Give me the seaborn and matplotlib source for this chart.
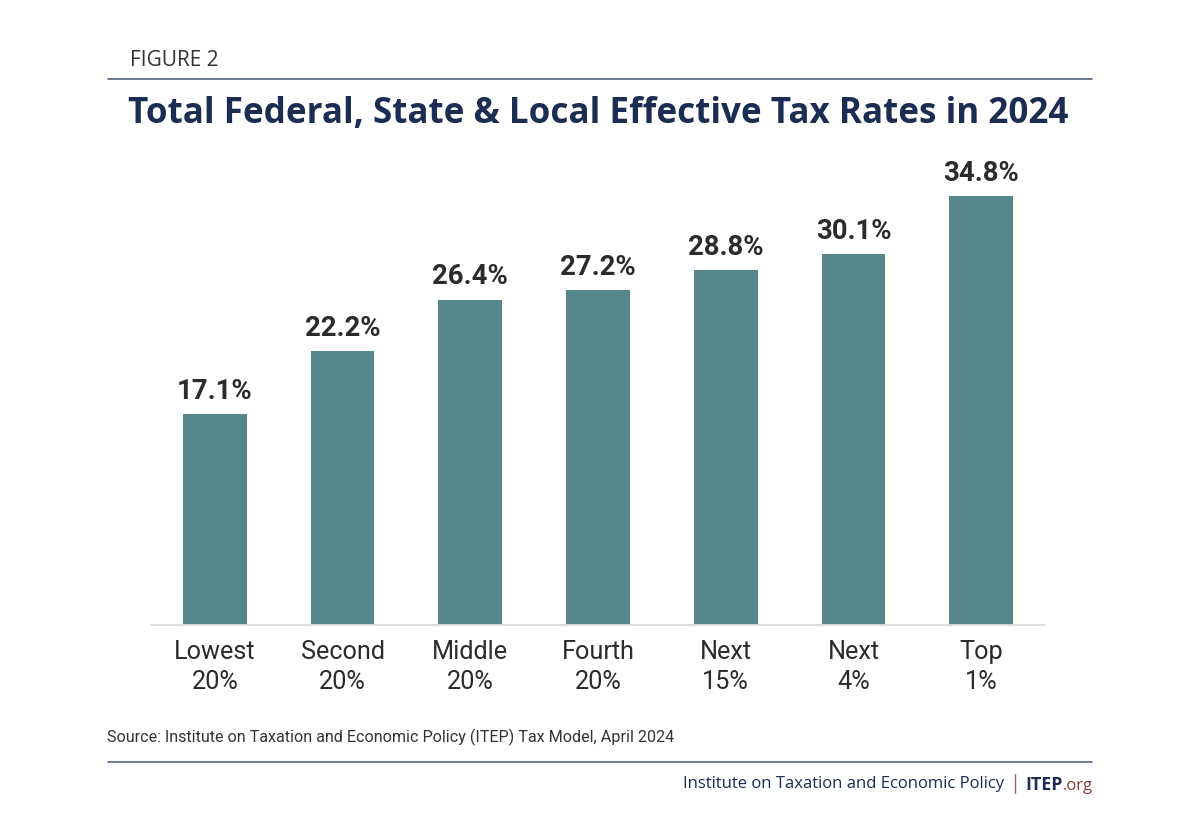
import matplotlib
matplotlib.use("Agg")
import matplotlib.pyplot as plt
import seaborn as sns
import pandas as pd

categories = ["Lowest\n20%", "Second\n20%", "Middle\n20%", "Fourth\n20%", "Next\n15%", "Next\n4%", "Top\n1%"]
rates = [17.1, 22.2, 26.4, 27.2, 28.8, 30.1, 34.8]
labels = ["17.1%", "22.2%", "26.4%", "27.2%", "28.8%", "30.1%", "34.8%"]
title = "Total Federal, State & Local Effective Tax Rates in 2024"
source = "Source: Institute on Taxation and Economic Policy (ITEP) Tax Model, April 2024"

sns.set_theme(style="white")
plt.rcParams['font.family'] = ['Roboto', 'DejaVu Sans']
W, H = 1200, 816
fig = plt.figure(figsize=(W/100, H/100), dpi=100, facecolor="white")
ax = fig.add_axes([151/W, 1-625/H, (1045-151)/W, (625-160)/H])
df = pd.DataFrame({"group": categories, "rate": rates})
sns.barplot(data=df, x="group", y="rate", color="#54868a", saturation=1, width=0.5, linewidth=0, ax=ax)
ax.set_xlim(-0.5, 6.5)
ax.set_ylim(0, (625-160)/((625-196)/34.8))
ax.set_xlabel(""); ax.set_ylabel(""); ax.set_yticks([])
for s in ["top", "left", "right"]:
    ax.spines[s].set_visible(False)
ax.spines["bottom"].set_color("#dcdcdc"); ax.spines["bottom"].set_linewidth(1.3)
ax.tick_params(axis="x", length=0, pad=10.5, labelsize=18.2, labelcolor="#2b2b2b")
for lab in ax.get_xticklabels():
    lab.set_linespacing(1.33)
for i, (v, t) in enumerate(zip(rates, labels)):
    ax.annotate(t, (i, v), xytext=(0, 6.6), textcoords="offset points", ha="center", va="bottom",
                fontsize=19.8, fontweight="bold", color="#2b2b2b")

navy = "#1b2d52"
sans = ["Open Sans", "DejaVu Sans"]
fig.text(130/W, 1-60.5/H, "FIGURE 2", fontsize=15, color="#333333", va="center", family=sans)
fig.text(128/W, 1-113.5/H, title, fontsize=25.2, fontweight="bold", color=navy, va="center", family=sans)
fig.text(107/W, 1-737/H, source, fontsize=11.62, color="#333333", va="center")
fig.add_artist(plt.Line2D([108/W, 1092/W], [1-79/H]*2, color="#4a5875", lw=1.1))
fig.add_artist(plt.Line2D([108/W, 1092/W], [1-762/H]*2, color="#4a5875", lw=1.1))
fig.text(683/W, 1-784.5/H, "Institute on Taxation and Economic Policy", fontsize=11.95, color=navy, va="center", family=sans)
fig.add_artist(plt.Line2D([1015/W, 1015/W], [1-793/H, 1-774/H], color="#a86060", lw=1.0))
fig.text(1025/W, 1-785/H, "ITEP", fontsize=12.8, fontweight="bold", color=navy, va="center", family=sans)
fig.text(1092.5/W, 1-786/H, ".org", fontsize=12, color="#8f3a3a", va="center", ha="right", family=sans)
fig.savefig("out.png", dpi=100, facecolor="white")
